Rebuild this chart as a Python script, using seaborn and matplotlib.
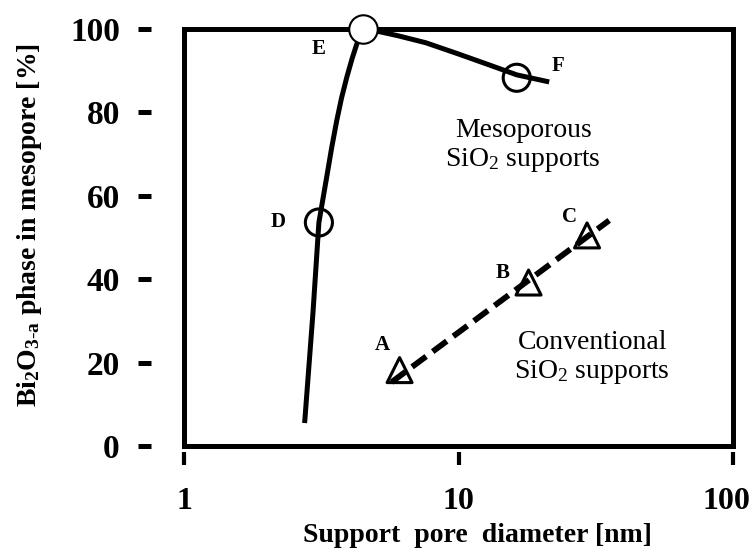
import matplotlib
matplotlib.use("Agg")
import matplotlib.pyplot as plt
import seaborn as sns
from matplotlib.patches import Rectangle
from matplotlib.transforms import ScaledTranslation
from matplotlib.ticker import NullLocator, FixedLocator, FixedFormatter

# Mesoporous SiO2 supports: trend curve and samples D, E, F
meso_curve_x = [2.75, 2.95, 3.10, 3.30, 3.45, 3.60, 3.75, 3.92, 4.10, 4.28, 4.50,
                5.20, 6.00, 7.60, 10.0, 13.3, 16.3, 21.4]
meso_curve_y = [5.5, 32.0, 53.6, 64.0, 71.5, 78.0, 83.5, 88.5, 93.0, 96.8, 100.0,
                99.3, 98.4, 96.7, 94.0, 91.1, 89.0, 87.3]
meso_labels = ["D", "E", "F"]
meso_x = [3.10, 4.50, 16.3]
meso_y = [53.6, 100.0, 88.3]

# Conventional SiO2 supports: samples A, B, C and their trend line
conv_labels = ["A", "B", "C"]
conv_x = [6.1, 18.0, 29.4]
conv_y = [18.2, 39.2, 50.5]
conv_fit_x = [5.7, 35.4]
conv_fit_y = [15.3, 54.1]

x_ticks = [1, 10, 100]
x_tick_labels = ["1", "10", "100"]
y_ticks = [0, 20, 40, 60, 80, 100]
y_tick_labels = ["0", "20", "40", "60", "80", "100"]

sns.set_theme(style="white")
plt.rcParams["font.family"] = ["Liberation Serif", "DejaVu Serif"]
plt.rcParams["mathtext.fontset"] = "custom"
plt.rcParams["mathtext.rm"] = "Liberation Serif"
plt.rcParams["mathtext.it"] = "Liberation Serif:italic"
plt.rcParams["mathtext.bf"] = "Liberation Serif:bold"

fig = plt.figure(figsize=(7.53, 5.50), dpi=100)
ax = fig.add_axes([0.2444, 0.1891, 0.7290, 0.7582])

# curves
sns.lineplot(x=meso_curve_x, y=meso_curve_y, sort=False, color="black",
             linewidth=3.6, ax=ax, zorder=3)
ax.lines[-1].set_solid_joinstyle("round")
ax.lines[-1].set_solid_capstyle("butt")
sns.lineplot(x=conv_fit_x, y=conv_fit_y, sort=False, color="black",
             linewidth=4.2, ax=ax, zorder=3)
ax.lines[-1].set_dashes((3.0, 1.4))
ax.lines[-1].set_dash_capstyle("butt")

# open circles D, F and the filled circle E that sits on the frame
sns.scatterplot(x=[meso_x[0], meso_x[2]], y=[meso_y[0], meso_y[2]], marker="o",
                s=19.5 ** 2, ax=ax, zorder=5, clip_on=False)
coll = ax.collections[-1]
coll.set_facecolor("none")
coll.set_edgecolor("black")
coll.set_linewidth(2.2)

sns.scatterplot(x=[meso_x[1]], y=[meso_y[1]], marker="o",
                s=20.5 ** 2, ax=ax, zorder=6, clip_on=False)
coll = ax.collections[-1]
coll.set_facecolor("white")
coll.set_edgecolor("black")
coll.set_linewidth(1.5)

# open triangles A, B, C
sns.scatterplot(x=conv_x, y=conv_y, marker="^", s=18 ** 2, ax=ax, zorder=5)
coll = ax.collections[-1]
coll.set_facecolor("none")
coll.set_edgecolor("black")
coll.set_linewidth(2.2)

# sample letters
letter_offsets = {"A": (-17, 25), "B": (-26, 10), "C": (-18, 18),
                  "D": (-41, 0), "E": (-45, -20), "F": (41, 12)}
for lab, xv, yv in zip(meso_labels + conv_labels, meso_x + conv_x, meso_y + conv_y):
    ax.annotate(lab, (xv, yv), xytext=letter_offsets[lab], textcoords="offset pixels",
                ha="center", va="center", fontsize=15, fontweight="bold",
                color="black", zorder=7, annotation_clip=False)

ax.text(17.2, 72.0, "Mesoporous\nSiO$_2$ supports", ha="center", va="center",
        multialignment="center", fontsize=20, color="black", linespacing=1.15)
ax.text(30.7, 21.1, "Conventional\nSiO$_2$ supports", ha="center", va="center",
        multialignment="center", fontsize=20, color="black", linespacing=1.15)

# axes, scales and the heavy frame
ax.set_xscale("log")
ax.set_xlim(1, 100)
ax.set_ylim(0, 100)
ax.xaxis.set_major_locator(FixedLocator(x_ticks))
ax.xaxis.set_major_formatter(FixedFormatter(x_tick_labels))
ax.xaxis.set_minor_locator(NullLocator())
ax.yaxis.set_major_locator(FixedLocator(y_ticks))
ax.yaxis.set_major_formatter(FixedFormatter(y_tick_labels))

for side in ["top", "right", "left", "bottom"]:
    ax.spines[side].set_visible(False)
ax.spines["left"].set_position(("outward", 23.8))
ax.spines["bottom"].set_position(("outward", 4.0))

ax.add_patch(Rectangle((0, 0), 1, 1, transform=ax.transAxes, fill=False,
                       edgecolor="black", linewidth=3.6, clip_on=False, zorder=4,
                       joinstyle="miter"))

ax.tick_params(axis="y", which="major", direction="out", length=9.4, width=3.6,
               color="black", pad=13, labelsize=24, left=True)
ax.tick_params(axis="x", which="major", direction="out", length=9.4, width=3.0,
               color="black", pad=16, labelsize=23, bottom=True)
for t in ax.get_xticklabels() + ax.get_yticklabels():
    t.set_fontweight("bold")
    t.set_color("black")
# the last label runs up to the right edge of the figure
xt = ax.get_xticklabels()
xt[-1].set_horizontalalignment("right")
xt[-1].set_transform(xt[-1].get_transform() + ScaledTranslation(0.17, 0, fig.dpi_scale_trans))

ax.set_xlabel("Support  pore  diameter [nm]", fontsize=20, fontweight="bold",
              color="black")
ax.set_ylabel(r"Bi$_\mathbf{2}$O$_\mathbf{3\text{-}a}$ phase in mesopore [%]",
              fontsize=20, fontweight="bold", color="black")
ax.yaxis.set_label_coords(-0.255, 0.53)
ax.xaxis.set_label_coords(0.535, -0.185)

ax.grid(False)
ax.set_facecolor("white")
fig.patch.set_facecolor("white")
fig.savefig("out.png", dpi=100, facecolor="white")
